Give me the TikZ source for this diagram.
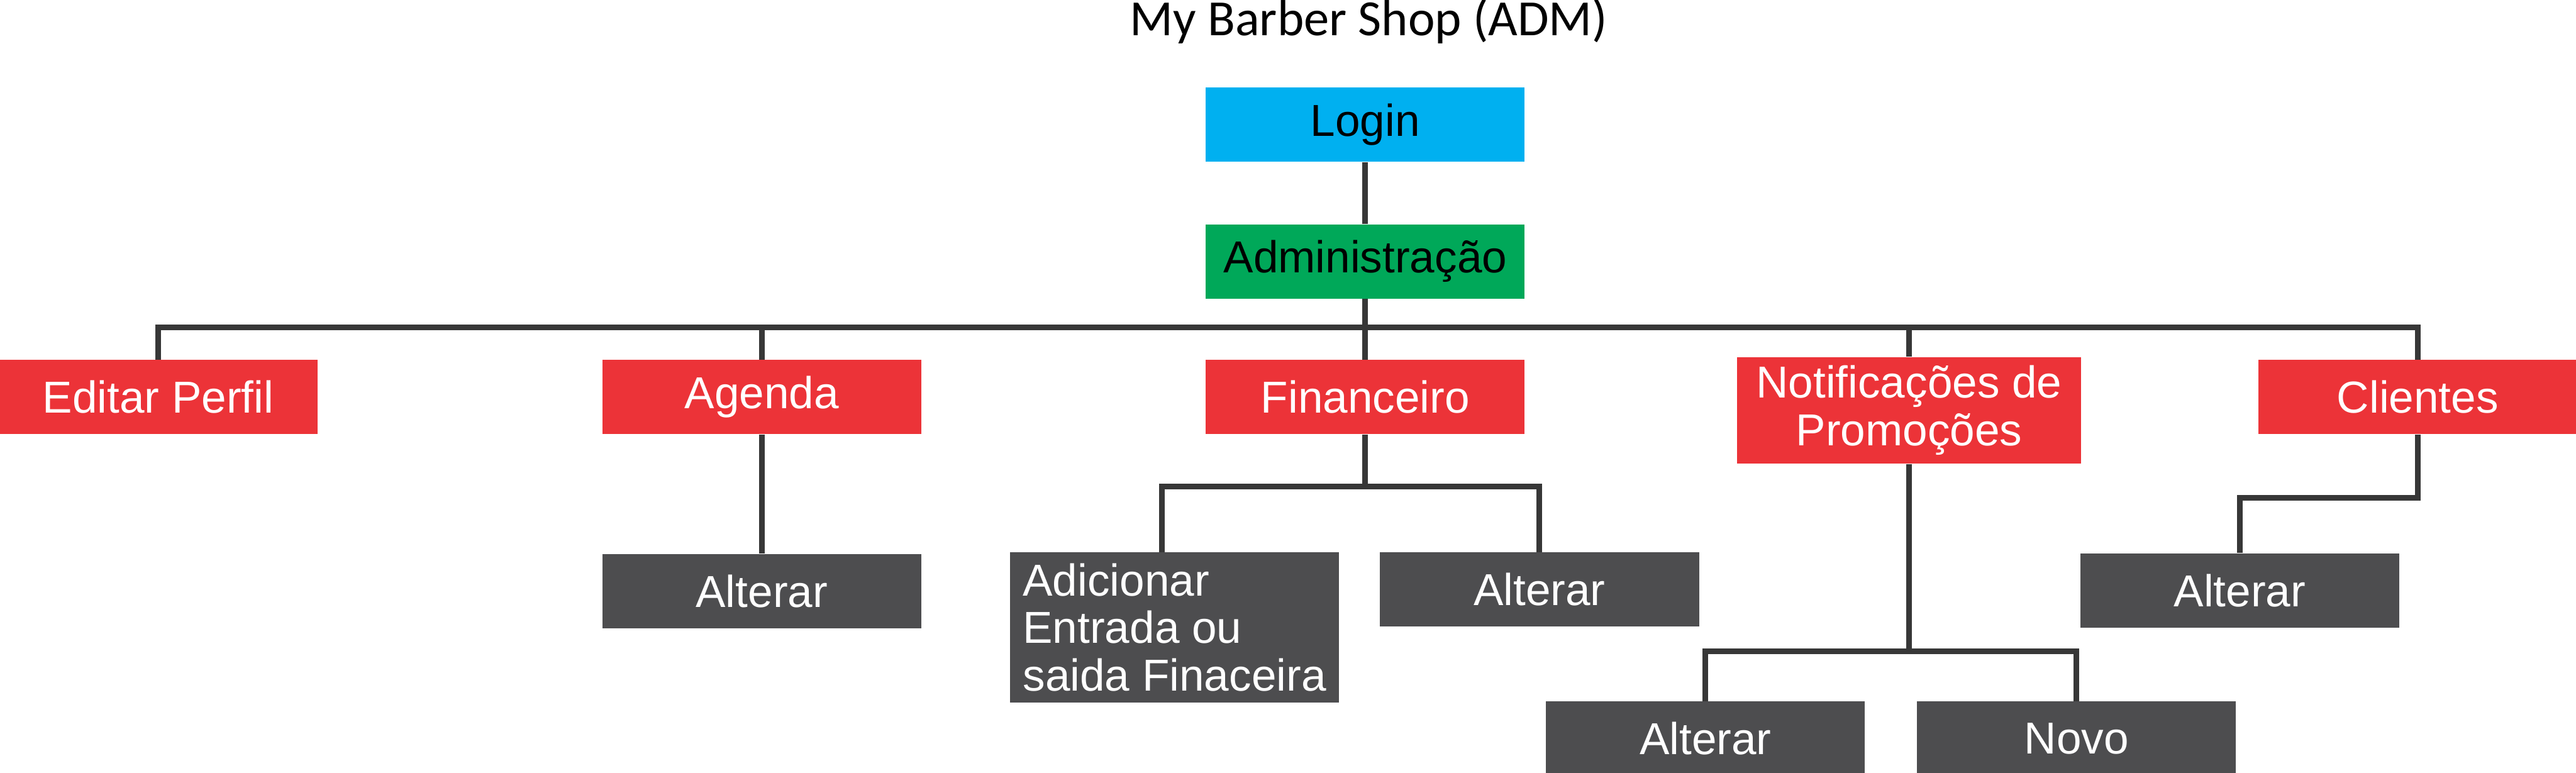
\documentclass[tikz,border=0pt]{standalone}
\usepackage{fontspec}
\setmainfont{Liberation Sans}
\newfontfamily\titlefont{Carlito}
\usetikzlibrary{positioning}
\definecolor{loginblue}{HTML}{00B0F0}
\definecolor{admgreen}{HTML}{00A859}
\definecolor{menured}{HTML}{EC3338}
\definecolor{acaogray}{HTML}{4D4D4F}
\definecolor{wiregray}{HTML}{373737}

\begin{document}
\begin{tikzpicture}[
  box/.style={minimum width=6.19cm, minimum height=1.44cm, inner sep=0pt,
    font=\fontsize{24.7}{26.2}\selectfont},
  menu/.style={box, fill=menured, text=white},
  acao/.style={box, fill=acaogray, text=white},
  wire/.style={draw=wiregray, line width=0.11cm},
]
\useasboundingbox (0,0) rectangle (50,-15);

\node[anchor=base, font=\titlefont\fontsize{28}{34}\selectfont] (title) at (26.57,-0.69) {My Barber Shop (ADM)};
\node[box, fill=loginblue] (login) at (26.5,-2.42) {Login};
\node[box, fill=admgreen, below=1.2cm of login] (adm) {Administração};

% menu do administrador
\node[menu, below=1.18cm of adm] (fin) {Financeiro};
\node[menu, left=5.51cm of fin] (agenda) {Agenda};
\node[menu, left=5.51cm of agenda] (perfil) {Editar Perfil};
\node[menu, align=center, minimum width=6.67cm, minimum height=2.07cm,
  right=4.11cm of fin.north east, anchor=north west, yshift=0.06cm] (notif) {Notificações de\\Promoções};
\node[menu, right=3.43cm of notif.north east, anchor=north west, yshift=-0.06cm] (cli) {Clientes};

% acoes
\node[acao, below=2.31cm of agenda] (agalt) {Alterar};
\node[acao, align=left, minimum width=6.39cm, minimum height=2.91cm,
  below=2.28cm of fin.south, anchor=north east, xshift=-0.5cm] (finadd) {Adicionar\\Entrada ou\\saida Finaceira};
\node[acao, below=2.28cm of fin.south, anchor=north west, xshift=0.28cm] (finalt) {Alterar};
\node[acao, below=4.6cm of notif.south, anchor=north east, xshift=-0.85cm] (notalt) {Alterar};
\node[acao, below=4.6cm of notif.south, anchor=north west, xshift=0.15cm] (novo) {Novo};
\node[acao, below=2.3cm of cli, xshift=-3.455cm] (clialt) {Alterar};

% ligacoes
\coordinate[below=0.55cm of adm.south] (bus);
\coordinate[below=1.01cm of fin.south] (finbus);
\coordinate[below=3.64cm of notif.south] (notbus);
\coordinate[below=1.23cm of cli.south] (clibend);

\draw[wire] (login) -- (adm);
\draw[wire] (adm) -- (bus);
\draw[wire] (perfil.north) |- (bus) -| (cli.north);
\foreach \n in {agenda, fin, notif}
  \draw[wire] (bus -| \n.north) -- (\n.north);
\draw[wire] (agenda) -- (agalt);
\draw[wire] (fin) -- (finbus);
\draw[wire] ([xshift=-0.25cm]finadd.north) |- (finbus) -| (finalt.north);
\draw[wire] (notif) -- (notbus);
\draw[wire] (notalt.north) |- (notbus) -| (novo.north);
\draw[wire] (cli) -- (clibend) -| (clialt.north);
\end{tikzpicture}
\end{document}
